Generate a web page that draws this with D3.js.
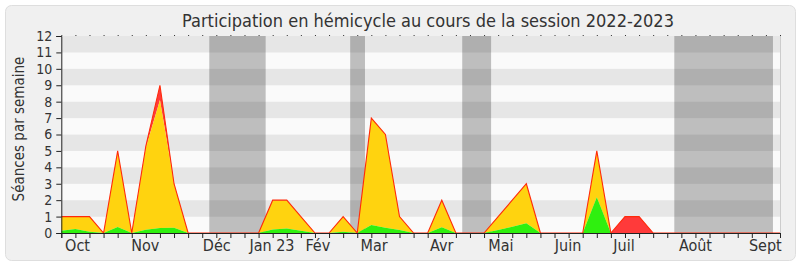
<!DOCTYPE html>
<html>
<head>
<meta charset="utf-8">
<script src="https://cdn.jsdelivr.net/npm/d3@7"></script>
<style>
  body { margin: 0; background: #fff; }
  text { font-family: "DejaVu Sans Condensed", "DejaVu Sans", sans-serif; fill: #333; }
</style>
</head>
<body>
<div id="chart"></div>
<script>
// semaines de la session, 0 = premiere semaine d'octobre
var semaines = d3.range(52);
// seances avec intervention (vert)
var interventions = [0.14,0.24,0.08,0,0.36,0,0.2,0.3,0.32,0,0,0,0,0,0,0.22,0.28,0.14,0,0,0.07,0,0.49,0.32,0.18,0,0,0.35,0,0,0,0.18,0.38,0.59,0,0,0,0,2.18,0,0,0,0,0,0,0,0,0,0,0,0,0];
// presences en hemicycle, total jaune (vert inclus)
var presences = [1,1,1,0,5,0,5.2,8.1,3,0,0,0,0,0,0,2,2,1,0,0,1,0,7,6,1,0,0,2,0,0,0,1,2,3,0,0,0,0,5,0,0,0,0,0,0,0,0,0,0,0,0,0];
// total des seances (rouge au dessus du jaune)
var totalSeances = [1,1,1,0,5,0,5.3,9,3,0,0,0,0,0,0,2,2,1,0,0,1,0,7,6,1,0,0,2,0,0,0,1,2,3,0,0,0,0,5,0,1,1,0,0,0,0,0,0,0,0,0,0];
// vacances parlementaires [debut, fin] en semaines
var vacances = [[10.5,14.5],[20.5,21.55],[28.45,30.5],[43.5,50.5]];
var mois = ["Oct","Nov","Déc","Jan 23","Fév","Mar","Avr","Mai","Juin","Juil","Août","Sept"];
var moisPos = [1.15,5.96,11.03,14.95,18.2,22.2,27,31.2,35.96,39.93,45,49.96];
var yTicks = d3.range(0, 13);

var width = 800, height = 267;
var margin = { top: 36, right: 20, bottom: 34, left: 61.3 };

var svg = d3.select("#chart").append("svg")
    .attr("width", width)
    .attr("height", height);

svg.append("rect")
    .attr("x", 5.5).attr("y", 5.5)
    .attr("width", 790).attr("height", 255)
    .attr("rx", 6).attr("ry", 6)
    .style("fill", "#f0f0f0")
    .style("stroke", "#dedede");

var x = d3.scaleLinear().domain([0, 51]).range([margin.left, 780]);
var y = d3.scaleLinear().domain([0, 12]).range([233, 36]);

// bandes horizontales
svg.selectAll(".bande")
    .data(d3.range(0, 12))
    .enter().append("rect")
      .attr("x", x(0))
      .attr("y", function(d) { return y(d + 1); })
      .attr("width", x(51) - x(0))
      .attr("height", function(d) { return y(d) - y(d + 1); })
      .style("fill", function(d) { return d % 2 ? "#e6e6e6" : "#fafafa"; });

// vacances
svg.selectAll(".vacances")
    .data(vacances)
    .enter().append("rect")
      .attr("x", function(d) { return x(d[0]); })
      .attr("y", y(12))
      .attr("width", function(d) { return x(d[1]) - x(d[0]); })
      .attr("height", y(0) - y(12))
      .style("fill", "#000")
      .style("fill-opacity", 0.24);

var area = d3.area()
    .x(function(d, i) { return x(i); })
    .y0(function(d) { return y(d[0]); })
    .y1(function(d) { return y(d[1]); });

var rouge = semaines.map(function(i) { return [presences[i], totalSeances[i]]; });
var jaune = semaines.map(function(i) { return [interventions[i], presences[i]]; });
var vert = semaines.map(function(i) { return [0, interventions[i]]; });

svg.append("path").datum(rouge).attr("d", area).style("fill", "#ff3a3a");
svg.append("path").datum(jaune).attr("d", area).style("fill", "#ffd30f");
svg.append("path").datum(vert).attr("d", area).style("fill", "#2ff00f");

svg.append("path")
    .datum(totalSeances)
    .attr("d", d3.line().x(function(d, i) { return x(i); }).y(function(d) { return y(d); }))
    .style("fill", "none")
    .style("stroke", "#ff2a0a")
    .style("stroke-width", 1.1);

// bord droit
svg.append("line")
    .attr("x1", 780.5).attr("x2", 780.5)
    .attr("y1", y(12)).attr("y2", y(0))
    .style("stroke", "#ccc");

// axes
var xAxis = svg.append("g")
    .attr("transform", "translate(0," + y(0) + ")")
    .call(d3.axisBottom(x).tickValues(semaines).tickSize(5).tickFormat(""));
xAxis.select(".domain").style("stroke", "#222");
xAxis.selectAll(".tick line").style("stroke", "#222");

var xTop = svg.append("g")
    .attr("transform", "translate(0," + (y(12) - 1) + ")")
    .call(d3.axisBottom(x).tickValues(semaines).tickSize(1).tickFormat(""));
xTop.select(".domain").remove();
xTop.selectAll(".tick line").style("stroke", "#333");

svg.selectAll(".mois")
    .data(mois)
    .enter().append("text")
      .attr("x", function(d, i) { return x(moisPos[i]); })
      .attr("y", 251)
      .style("text-anchor", "middle")
      .style("font-size", "16px")
      .text(function(d) { return d; });

var yAxis = svg.append("g")
    .attr("transform", "translate(" + x(0) + ",0)")
    .call(d3.axisLeft(y).tickValues(yTicks).tickSize(5).tickPadding(4).tickFormat(d3.format("d")));
yAxis.select(".domain").style("stroke", "#222");
yAxis.selectAll(".tick line").style("stroke", "#222");
yAxis.selectAll(".tick text")
    .style("font-size", "14px")
    .style("font-family", "\"DejaVu Sans Condensed\", \"DejaVu Sans\", sans-serif")
    .style("fill", "#333");

svg.append("text")
    .attr("transform", "translate(24,129) rotate(-90)")
    .style("text-anchor", "middle")
    .style("font-size", "15px")
    .text("Séances par semaine");

svg.append("text")
    .attr("x", 428)
    .attr("y", 26.5)
    .style("text-anchor", "middle")
    .style("font-size", "18px")
    .text("Participation en hémicycle au cours de la session 2022-2023");
</script>
</body>
</html>
